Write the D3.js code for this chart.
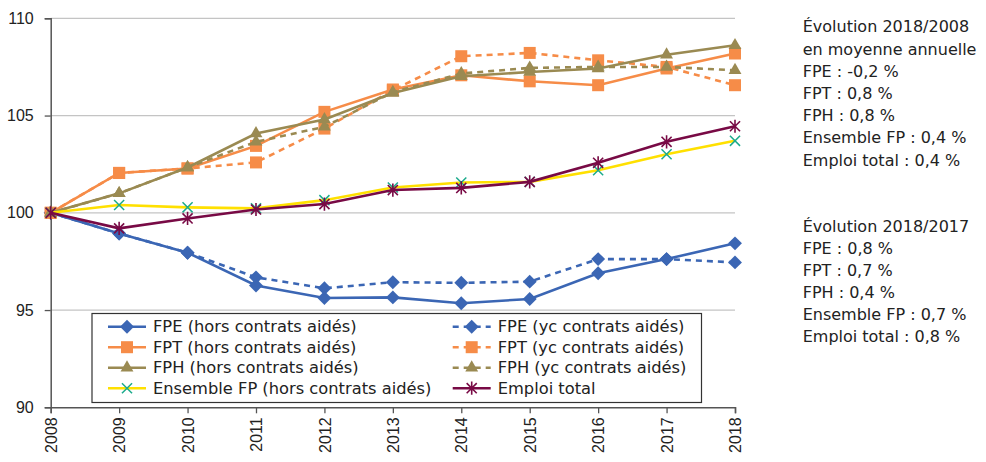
<!DOCTYPE html>
<html>
<head>
<meta charset="utf-8">
<script src="https://cdn.jsdelivr.net/npm/d3@7"></script>
<style>
  body { margin: 0; background: #fff; }
  svg { font-family: "DejaVu Sans", "Noto Sans", sans-serif; }
</style>
</head>
<body>
<script>
// data (index, base 100 in 2008)
var years = [2008, 2009, 2010, 2011, 2012, 2013, 2014, 2015, 2016, 2017, 2018];
var yTicks = [90, 95, 100, 105, 110];

var fpeHors = [100, 98.94, 97.95, 96.26, 95.62, 95.65, 95.35, 95.57, 96.89, 97.62, 98.43];
var fpeYc   = [100, 98.94, 97.95, 96.68, 96.12, 96.43, 96.40, 96.46, 97.62, 97.62, 97.45];
var fptHors = [100, 102.05, 102.28, 103.44, 105.19, 106.34, 107.07, 106.76, 106.56, 107.42, 108.19];
var fptYc   = [100, 102.05, 102.28, 102.59, 104.33, 106.30, 108.05, 108.22, 107.84, 107.50, 106.56];
var fphHors = [100, 101.00, 102.33, 104.08, 104.80, 106.16, 107.02, 107.24, 107.42, 108.13, 108.61];
var fphYc   = [100, 101.00, 102.33, 103.65, 104.42, 106.20, 107.16, 107.45, 107.50, 107.50, 107.33];
var ensemble = [100, 100.40, 100.28, 100.23, 100.65, 101.30, 101.56, 101.59, 102.19, 103.01, 103.70];
var emploi   = [100, 99.20, 99.71, 100.17, 100.45, 101.17, 101.28, 101.59, 102.57, 103.65, 104.45];

var notes1 = ["Évolution 2018/2008", "en moyenne annuelle", "FPE : -0,2 %", "FPT : 0,8 %",
              "FPH : 0,8 %", "Ensemble FP : 0,4 %", "Emploi total : 0,4 %"];
var notes2 = ["Évolution 2018/2017", "FPE : 0,8 %", "FPT : 0,7 %", "FPH : 0,4 %",
              "Ensemble FP : 0,7 %", "Emploi total : 0,8 %"];

var blue = "#3b66b4", orange = "#f68c48", olive = "#9a8a52",
    yellow = "#ffe000", teal = "#1bab8c", maroon = "#780a45";

var series = [
  {name: "FPE (hors contrats aidés)", values: fpeHors, color: blue, dash: null, marker: "diamond"},
  {name: "FPE (yc contrats aidés)", values: fpeYc, color: blue, dash: "6,5", marker: "diamond"},
  {name: "FPT (hors contrats aidés)", values: fptHors, color: orange, dash: null, marker: "square"},
  {name: "FPT (yc contrats aidés)", values: fptYc, color: orange, dash: "6,5", marker: "square"},
  {name: "FPH (hors contrats aidés)", values: fphHors, color: olive, dash: null, marker: "triangle"},
  {name: "FPH (yc contrats aidés)", values: fphYc, color: olive, dash: "6,5", marker: "triangle"},
  {name: "Ensemble FP (hors contrats aidés)", values: ensemble, color: yellow, dash: null, marker: "cross", markerColor: teal},
  {name: "Emploi total", values: emploi, color: maroon, dash: null, marker: "asterisk"}
];

var margin = {top: 18.3, left: 50.7},
    width = 684.3,
    height = 389;

var x = d3.scaleLinear().domain([2008, 2018]).range([0, width]);
var y = d3.scaleLinear().domain([90, 110]).range([height, 0]);

var svg = d3.select("body").append("svg")
    .attr("width", 986)
    .attr("height", 462);

var g = svg.append("g")
    .attr("transform", "translate(" + margin.left + "," + margin.top + ")");

// gridlines
g.selectAll(".grid")
    .data(yTicks.filter(function(d) { return d > 90; }))
  .enter().append("line")
    .attr("x1", 0).attr("x2", width)
    .attr("y1", function(d) { return y(d); })
    .attr("y2", function(d) { return y(d); })
    .attr("stroke", "#c4c4c4")
    .attr("stroke-width", 1.3);

// y axis
var yAxis = g.append("g")
    .call(d3.axisLeft(y).tickValues(yTicks).tickSize(6).tickPadding(11));
yAxis.select(".domain").attr("stroke", "#555").attr("stroke-width", 1.5);
yAxis.selectAll(".tick line").attr("stroke", "#555").attr("stroke-width", 1.3);
yAxis.selectAll("text").attr("font-size", 16).attr("fill", "#222");

// x axis
var xAxis = g.append("g")
    .attr("transform", "translate(0," + height + ")")
    .call(d3.axisBottom(x).tickValues(years).tickFormat(d3.format("d")).tickSize(6));
xAxis.select(".domain").attr("stroke", "#555").attr("stroke-width", 1.5);
xAxis.selectAll(".tick line").attr("stroke", "#555").attr("stroke-width", 1.3);
xAxis.selectAll("text")
    .attr("font-size", 16)
    .attr("fill", "#222")
    .attr("transform", "rotate(-90)")
    .attr("text-anchor", "end")
    .attr("dy", "0.35em")
    .attr("x", -10)
    .attr("y", 0);

function drawMarker(sel, s, size) {
  var c = s.markerColor || s.color;
  if (s.marker === "diamond") {
    var d = size * 0.58;
    sel.append("path").attr("d", "M0," + (-d) + "L" + d + ",0L0," + d + "L" + (-d) + ",0Z")
      .attr("fill", c);
  } else if (s.marker === "square") {
    sel.append("rect").attr("x", -size / 2).attr("y", -size / 2)
      .attr("width", size).attr("height", size).attr("fill", c);
  } else if (s.marker === "triangle") {
    sel.append("path").attr("d", d3.symbol(d3.symbolTriangle, size * size * 0.5)())
      .attr("fill", c);
  } else if (s.marker === "cross") {
    var h = size * 0.42;
    sel.append("path").attr("d", "M" + (-h) + "," + (-h) + "L" + h + "," + h + "M" + (-h) + "," + h + "L" + h + "," + (-h))
      .attr("stroke", c).attr("stroke-width", 1.5).attr("fill", "none");
  } else if (s.marker === "asterisk") {
    var a = size * 0.42, b = size * 0.55;
    sel.append("path").attr("d",
        "M" + (-a) + "," + (-a) + "L" + a + "," + a +
        "M" + (-a) + "," + a + "L" + a + "," + (-a) +
        "M0," + (-b) + "L0," + b)
      .attr("stroke", c).attr("stroke-width", 1.6).attr("fill", "none");
  }
}

var line = d3.line()
    .x(function(d, i) { return x(years[i]); })
    .y(function(d) { return y(d); });

series.forEach(function(s) {
  g.append("path")
      .datum(s.values)
      .attr("fill", "none")
      .attr("stroke", s.color)
      .attr("stroke-width", 2.6)
      .attr("stroke-dasharray", s.dash)
      .attr("d", line);

  s.values.forEach(function(v, i) {
    var m = g.append("g")
        .attr("transform", "translate(" + x(years[i]) + "," + y(v) + ")");
    drawMarker(m, s, 12);
  });
});

// legend
var legend = svg.append("g");
legend.append("rect")
    .attr("x", 92).attr("y", 313.5)
    .attr("width", 609.5).attr("height", 89)
    .attr("fill", "#fff")
    .attr("stroke", "#333")
    .attr("stroke-width", 1.2);

var rowY = [326.7, 347.2, 367.7, 388.2];
var colX = [108, 452.7];
series.forEach(function(s, i) {
  var cx = colX[i % 2], cy = rowY[Math.floor(i / 2)];
  var item = legend.append("g").attr("transform", "translate(" + cx + "," + cy + ")");
  item.append("line")
      .attr("x1", 0).attr("x2", 38)
      .attr("stroke", s.color)
      .attr("stroke-width", 2.6)
      .attr("stroke-dasharray", s.dash);
  var m = item.append("g").attr("transform", "translate(19,0)");
  drawMarker(m, s, 12);
  item.append("text")
      .attr("x", 45)
      .attr("dy", "0.35em")
      .attr("font-size", 16.3)
      .attr("fill", "#222")
      .text(s.name);
});

// notes on the right
var notes = svg.append("g").attr("font-size", 16).attr("fill", "#222");
notes.selectAll(".n1")
    .data(notes1)
  .enter().append("text")
    .attr("x", 802.7)
    .attr("y", function(d, i) { return 32.3 + i * 22.2; })
    .text(function(d) { return d; });
notes.selectAll(".n2")
    .data(notes2)
  .enter().append("text")
    .attr("x", 802.7)
    .attr("y", function(d, i) { return 231.5 + i * 22.1; })
    .text(function(d) { return d; });
</script>
</body>
</html>
